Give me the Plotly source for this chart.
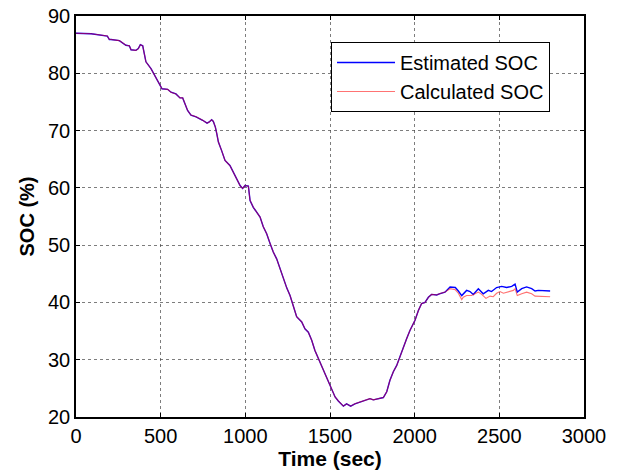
import plotly.graph_objects as go

# Shared part of the discharge / charge profile (both estimates agree here)
t_common = [0, 90, 185, 197, 207, 256, 295, 315, 325, 354, 368, 380, 394, 404, 413,
            443, 472, 492, 508, 541, 561, 590, 614, 630, 650, 659, 679, 709, 748,
            774, 787, 801, 811, 823, 831, 841, 860, 880, 909, 929, 949, 969, 984,
            998, 1018, 1028, 1047, 1067, 1087, 1106, 1126, 1146, 1165, 1185, 1205,
            1225, 1245, 1264, 1283, 1303, 1333, 1352, 1372, 1392, 1411, 1431, 1451,
            1470, 1490, 1510, 1530, 1549, 1565, 1579, 1598, 1622, 1647, 1677, 1716,
            1736, 1756, 1785, 1815, 1835, 1854, 1874, 1894, 1913, 1933, 1953, 1972,
            2002, 2022, 2041, 2061, 2081, 2100, 2130, 2146, 2179]
soc_common = [87.0, 86.9, 86.5, 85.9, 85.9, 85.7, 84.9, 84.8, 84.1, 84.0, 84.3, 85.0,
              84.8, 83.4, 82.0, 80.8, 79.3, 78.2, 77.3, 77.2, 76.7, 76.4, 75.7, 75.7,
              74.4, 73.5, 72.7, 72.4, 71.8, 71.3, 71.5, 71.9, 71.6, 70.6, 69.5, 68.0,
              66.5, 64.8, 63.9, 62.8, 61.6, 60.4, 59.9, 60.4, 60.3, 57.8, 56.6, 55.8,
              54.9, 53.2, 52.0, 50.3, 48.8, 47.6, 45.8, 44.0, 42.5, 41.2, 39.5, 37.5,
              36.6, 35.4, 34.8, 33.4, 31.6, 30.2, 29.0, 27.6, 26.4, 24.7, 23.5, 22.8,
              22.4, 21.9, 22.3, 21.9, 22.3, 22.6, 23.1, 23.2, 23.0, 23.2, 23.4, 24.4,
              26.4, 27.9, 29.0, 30.5, 32.2, 33.7, 35.1, 36.9, 38.6, 39.8, 40.0, 40.9,
              41.4, 41.3, 41.5, 41.8]

# Tails where the two SOC values drift apart
t_est_tail = [2209, 2240, 2258, 2278, 2307, 2327, 2346, 2376, 2405, 2435, 2454, 2484,
              2514, 2543, 2573, 2593, 2606, 2632, 2661, 2691, 2711, 2730, 2800]
soc_est_tail = [42.7, 42.6, 42.0, 41.2, 42.1, 41.9, 41.4, 42.4, 41.5, 42.1, 41.9, 42.6,
                42.8, 42.6, 42.8, 43.2, 41.8, 42.4, 42.7, 42.4, 42.0, 42.1, 42.0]

t_calc_tail = [2209, 2240, 2258, 2278, 2287, 2307, 2336, 2356, 2376, 2396, 2421, 2445,
               2464, 2484, 2504, 2524, 2553, 2583, 2593, 2606, 2632, 2661, 2691, 2711,
               2800]
soc_calc_tail = [42.4, 42.2, 41.6, 40.5, 40.9, 41.2, 41.2, 41.5, 41.8, 41.4, 40.7, 41.1,
                 41.0, 41.6, 41.9, 41.6, 41.8, 42.1, 42.4, 41.2, 41.5, 41.8, 41.5, 41.1,
                 41.0]

x_ticks = [0, 500, 1000, 1500, 2000, 2500, 3000]
y_ticks = [20, 30, 40, 50, 60, 70, 80, 90]

font_family = "Liberation Sans, Arial, sans-serif"

fig = go.Figure()
fig.add_trace(go.Scatter(
    x=t_common + t_est_tail, y=soc_common + soc_est_tail,
    mode="lines", name="Estimated SOC",
    line=dict(color="rgb(0,0,255)", width=1.4),
))
fig.add_trace(go.Scatter(
    x=t_common + t_calc_tail, y=soc_common + soc_calc_tail,
    mode="lines", name="Calculated SOC",
    line=dict(color="rgb(255,0,0)", width=1.1), opacity=0.55,
))

axis_common = dict(
    showline=True, linecolor="black", linewidth=1.5, mirror="allticks",
    ticks="inside", ticklen=4, tickcolor="black",
    showgrid=True, gridcolor="rgba(70,70,70,0.7)", griddash="dot", gridwidth=1,
    zeroline=False, automargin=False,
    tickfont=dict(family=font_family, size=20, color="black"),
)

fig.update_xaxes(
    range=[0, 3000], tickvals=x_ticks, ticktext=[str(v) for v in x_ticks],
    title=dict(text="<b>Time (sec)</b>", font=dict(family=font_family, size=21, color="black"),
               standoff=2),
    **axis_common,
)
fig.update_yaxes(
    range=[20, 90], tickvals=y_ticks, ticktext=[str(v) for v in y_ticks],
    title=dict(text="<b>SOC (%)</b>", font=dict(family=font_family, size=20, color="black"),
               standoff=8),
    **axis_common,
)

fig.update_layout(
    width=617, height=471,
    margin=dict(l=76, r=33, t=16, b=54),
    paper_bgcolor="white", plot_bgcolor="white",
    showlegend=True,
    legend=dict(
        x=0.502, y=0.935, xanchor="left", yanchor="top",
        bgcolor="white", bordercolor="black", borderwidth=1,
        font=dict(family=font_family, size=20, color="black"),
        itemwidth=58,
    ),
)

fig.write_html("out.html")
